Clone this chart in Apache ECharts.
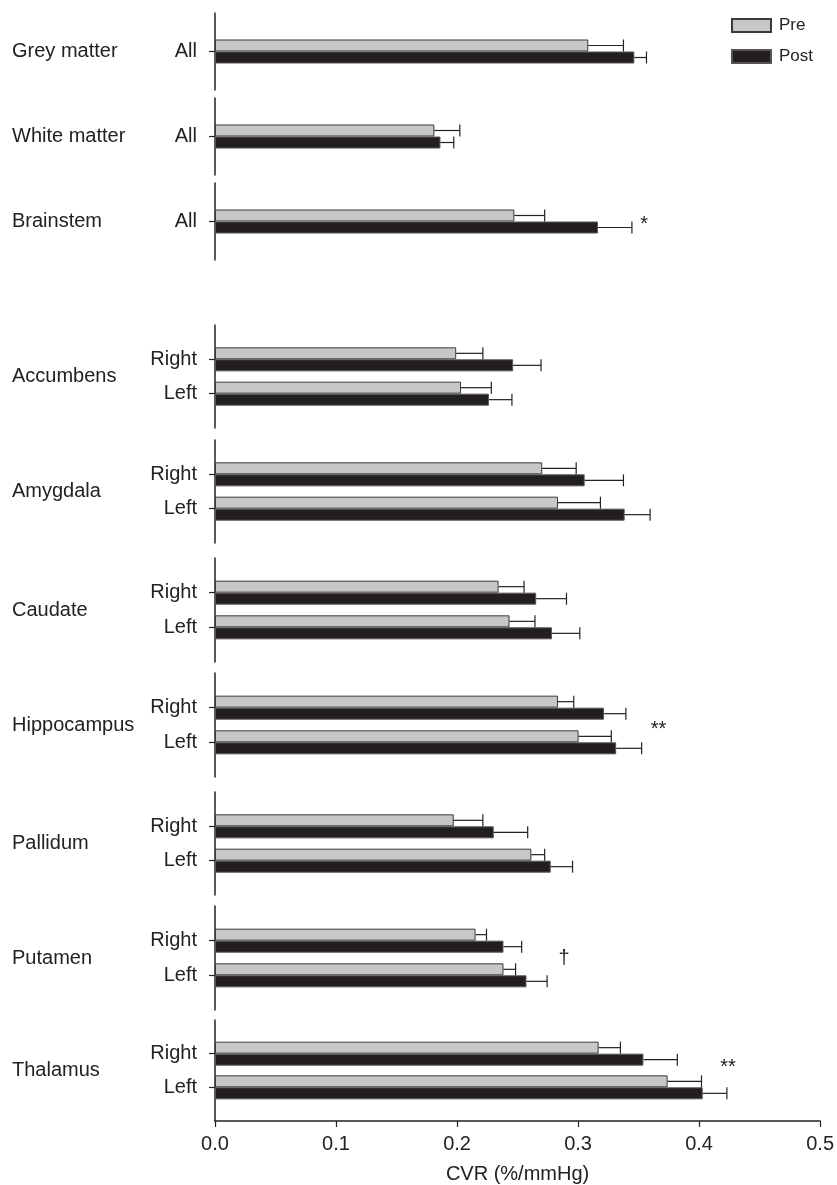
<!DOCTYPE html>
<html>
<head>
<meta charset="utf-8">
<script src="https://cdn.jsdelivr.net/npm/echarts@6/dist/echarts.min.js"></script>
<style>
html,body{margin:0;padding:0;background:#fff;}
#chart{width:837px;height:1185px;}
</style>
</head>
<body>
<div id="chart"></div>
<script>
// ---- data ----
const regions = ['Grey matter','White matter','Brainstem','Accumbens','Amygdala','Caudate','Hippocampus','Pallidum','Putamen','Thalamus'];
const sides = [['All'],['All'],['All'],['Right','Left'],['Right','Left'],['Right','Left'],['Right','Left'],['Right','Left'],['Right','Left'],['Right','Left']];
const preMean  = [[0.308],[0.181],[0.247],[0.199,0.203],[0.270,0.283],[0.234,0.243],[0.283,0.300],[0.197,0.261],[0.215,0.238],[0.317,0.374]];
const preErr   = [[0.029],[0.021],[0.025],[0.022,0.025],[0.028,0.035],[0.021,0.021],[0.013,0.027],[0.024,0.011],[0.009,0.010],[0.018,0.028]];
const postMean = [[0.346],[0.186],[0.316],[0.246,0.226],[0.305,0.338],[0.265,0.278],[0.321,0.331],[0.230,0.277],[0.238,0.257],[0.354,0.403]];
const postErr  = [[0.010],[0.011],[0.028],[0.023,0.019],[0.032,0.021],[0.025,0.023],[0.018,0.021],[0.028,0.018],[0.015,0.017],[0.028,0.020]];
const seriesNames = ['Pre','Post'];
const xMin = 0, xMax = 0.5, xStep = 0.1;
const xTitle = 'CVR (%/mmHg)';
// significance marks: region index, text, x value, position in category units
const annRegion = [2, 6, 8, 9];
const annText   = ['*', '**', '\u2020', '**'];
const annX      = [0.354, 0.366, 0.288, 0.424];
const annPos    = [1.07, 1.62, 1.5, 1.40];

// ---- layout ----
const FONT = 'Liberation Sans, Arial, Helvetica, sans-serif';
const FS = 20;
const TXT = '#222';
const panelTop    = [13, 98, 183, 325, 440, 558, 673, 792, 906, 1020];
const panelHeight = [77, 77, 77, 103, 103, 104, 104, 103, 104, 103.3];
const nameLift    = [13, 4, 0, 0, 0, 0, 0, 0, 0, 0];
const GRID_LEFT = 215, GRID_RIGHT = 16;
const BAR_W = 12;
const PRE_COLOR = '#c6c7c9', POST_COLOR = '#231f20';

const chart = echarts.init(document.getElementById('chart'), null, {renderer: 'canvas'});

const grids = [], xAxes = [], yAxes = [], series = [];
const nonEmpty = (i, v) => v !== '';

regions.forEach((name, p) => {
  const cats = [''].concat(sides[p]).concat(['']);
  const last = p === regions.length - 1;
  grids.push({left: GRID_LEFT, right: GRID_RIGHT, top: panelTop[p], height: panelHeight[p], containLabel: false});
  xAxes.push({
    gridIndex: p, type: 'value', min: xMin, max: xMax, interval: xStep,
    show: last,
    axisLine: {show: true, lineStyle: {color: TXT, width: 1.5}},
    axisTick: {show: true, length: 6, lineStyle: {color: TXT, width: 1.2}},
    axisLabel: {show: true, margin: 13, fontSize: FS, fontFamily: FONT, color: TXT, formatter: v => v.toFixed(1)},
    splitLine: {show: false},
    name: last ? xTitle : '', nameLocation: 'middle', nameGap: 43,
    nameTextStyle: {fontSize: FS, fontFamily: FONT, color: TXT}
  });
  yAxes.push({
    gridIndex: p, type: 'category', inverse: true, boundaryGap: false, data: cats,
    axisLine: {show: true, lineStyle: {color: TXT, width: 1.5}},
    axisTick: {show: true, length: 6, interval: nonEmpty, lineStyle: {color: TXT, width: 1.2}},
    axisLabel: {show: true, interval: nonEmpty, margin: 18, fontSize: FS, fontFamily: FONT, color: TXT},
    splitLine: {show: false},
    name: name, nameLocation: 'middle', nameRotate: 0, nameGap: 203,
    nameTextStyle: {align: 'left', verticalAlign: 'middle', fontSize: FS, fontFamily: FONT, color: TXT,
      padding: [0, 0, nameLift[p], 0]}
  });
  const pad = arr => [null].concat(arr).concat([null]);
  series.push({
    type: 'bar', name: seriesNames[0], xAxisIndex: p, yAxisIndex: p,
    data: pad(preMean[p]), barWidth: BAR_W, barGap: '0%',
    itemStyle: {color: PRE_COLOR, borderColor: '#3a3a3a', borderWidth: 1},
    emphasis: {disabled: true}, silent: true
  });
  series.push({
    type: 'bar', name: seriesNames[1], xAxisIndex: p, yAxisIndex: p,
    data: pad(postMean[p]), barWidth: BAR_W, barGap: '0%',
    itemStyle: {color: POST_COLOR, borderColor: '#555', borderWidth: 1},
    emphasis: {disabled: true}, silent: true
  });
  // error bars
  const errData = [];
  sides[p].forEach((s, k) => {
    errData.push([preMean[p][k], k + 1, preErr[p][k], 0]);
    errData.push([postMean[p][k], k + 1, postErr[p][k], 1]);
  });
  series.push({
    type: 'custom', xAxisIndex: p, yAxisIndex: p, silent: true, z: 5,
    encode: {x: 0, y: 1},
    data: errData,
    renderItem: (params, api) => {
      const m = api.value(0), c = api.value(1), e = api.value(2), w = api.value(3);
      const a = api.coord([m, c]);
      const b = api.coord([m + e, c]);
      const yc = a[1] + (w === 0 ? -BAR_W / 2 : BAR_W / 2);
      const st = {stroke: '#222', lineWidth: 1.2};
      return {type: 'group', children: [
        {type: 'line', shape: {x1: a[0], y1: yc, x2: b[0], y2: yc}, style: st},
        {type: 'line', shape: {x1: b[0], y1: yc - BAR_W / 2, x2: b[0], y2: yc + BAR_W / 2}, style: st}
      ]};
    }
  });
});

// significance annotations
annRegion.forEach((p, i) => {
  const base = Math.floor(annPos[i]);
  const frac = annPos[i] - base;
  series.push({
    type: 'custom', xAxisIndex: p, yAxisIndex: p, silent: true, z: 6,
    encode: {x: 0, y: 1},
    data: [[annX[i], base, frac]],
    renderItem: (params, api) => {
      const pt = api.coord([api.value(0), api.value(1)]);
      const step = api.size([0, 1])[1];
      return {type: 'text', x: pt[0], y: pt[1] + api.value(2) * step,
        style: {text: annText[i], align: 'center', verticalAlign: 'middle', fontSize: FS, fontFamily: FONT, fill: TXT}};
    }
  });
});

chart.setOption({
  animation: false,
  backgroundColor: '#fff',
  grid: grids, xAxis: xAxes, yAxis: yAxes, series: series,
  legend: {
    data: seriesNames, orient: 'vertical', left: 731, top: 17, padding: 0,
    icon: 'rect', itemWidth: 39, itemHeight: 13, itemGap: 14,
    textStyle: {fontSize: 17, fontFamily: FONT, color: TXT, padding: [0, 0, 0, 3]},
    selectedMode: false
  }
});
</script>
</body>
</html>
